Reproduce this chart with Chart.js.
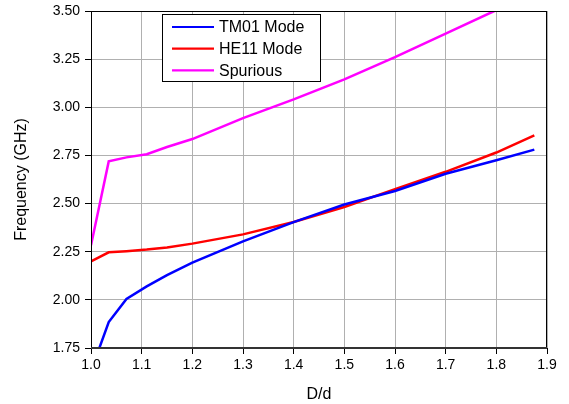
<!DOCTYPE html>
<html>
<head>
<meta charset="utf-8">
<title>Mode frequencies vs D/d</title>
<script src="https://cdn.jsdelivr.net/npm/chart.js@4"></script>
<style>
  html, body { margin: 0; padding: 0; background: #fff; }
  #wrap { width: 569px; height: 404px; }
</style>
</head>
<body>
<div id="wrap"><canvas id="modeChart" width="569" height="404"></canvas></div>
<script>
// ===== DATA =====
const ratio    = [1.0, 1.035, 1.07, 1.11, 1.15, 1.2, 1.3, 1.4, 1.5, 1.6, 1.7, 1.8, 1.875];
const tm01     = [1.63, 1.885, 2.005, 2.07, 2.128, 2.193, 2.304, 2.404, 2.495, 2.565, 2.655, 2.725, 2.78];
const he11     = [2.20, 2.247, 2.253, 2.261, 2.272, 2.292, 2.34, 2.404, 2.482, 2.575, 2.665, 2.765, 2.854];
const spurious = [2.283, 2.719, 2.74, 2.756, 2.794, 2.835, 2.944, 3.041, 3.145, 3.26, 3.383, 3.505, 3.62];

const seriesNames = ['TM01 Mode', 'HE11 Mode', 'Spurious'];
const seriesColors = ['#0000ff', '#ff0000', '#ff00ff'];

const FONT = 'Arial, "Liberation Sans", sans-serif';

function toPoints(ys) {
  return ys.map((y, i) => ({ x: ratio[i], y }));
}

// ===== PLUGINS =====
// black frame round the plot, darker bottom axis line
const framePlugin = {
  id: 'frame',
  afterDatasetsDraw(chart) {
    const { ctx, chartArea: a } = chart;
    ctx.save();
    ctx.strokeStyle = '#000';
    ctx.lineWidth = 1;
    ctx.strokeRect(a.left + 0.5, a.top + 0.5, a.right - a.left - 1, a.bottom - a.top);
    ctx.strokeStyle = '#333';
    ctx.lineWidth = 2;
    ctx.beginPath();
    ctx.moveTo(a.left, a.bottom);
    ctx.lineTo(a.right, a.bottom);
    ctx.stroke();
    ctx.restore();
  }
};

// boxed legend in the upper left of the plot
const boxLegend = {
  id: 'boxLegend',
  afterDraw(chart) {
    const { ctx } = chart;
    const x0 = 162, y0 = 14, w = 158, h = 67;
    ctx.save();
    ctx.fillStyle = '#fff';
    ctx.fillRect(x0, y0, w, h);
    ctx.strokeStyle = '#000';
    ctx.lineWidth = 1;
    ctx.strokeRect(x0 + 0.5, y0 + 0.5, w, h);
    ctx.font = '16px ' + FONT;
    ctx.textBaseline = 'middle';
    chart.data.datasets.forEach((ds, i) => {
      const yy = y0 + 13 + i * 21.7;
      ctx.strokeStyle = ds.borderColor;
      ctx.lineWidth = 2.2;
      ctx.beginPath();
      ctx.moveTo(x0 + 10, yy);
      ctx.lineTo(x0 + 52, yy);
      ctx.stroke();
      ctx.fillStyle = '#000';
      ctx.fillText(ds.label, x0 + 57, yy + 1);
    });
    ctx.restore();
  }
};

// ===== CHART =====
new Chart(document.getElementById('modeChart'), {
  type: 'line',
  data: {
    datasets: [tm01, he11, spurious].map((ys, i) => ({
      label: seriesNames[i],
      data: toPoints(ys),
      borderColor: seriesColors[i],
      backgroundColor: seriesColors[i],
      borderWidth: 2.5,
      pointRadius: 0,
      tension: 0,
      fill: false
    }))
  },
  options: {
    responsive: false,
    animation: false,
    layout: { padding: { top: 11, right: 22, left: 12, bottom: 0 } },
    plugins: { legend: { display: false }, tooltip: { enabled: false } },
    scales: {
      x: {
        type: 'linear',
        min: 1.0, max: 1.9,
        afterFit: axis => { axis.height = 56; axis.paddingLeft = 0; axis.paddingRight = 0; },
        grid: { color: '#b0b0b0', lineWidth: 1, tickColor: '#000', tickLength: 6 },
        border: { display: false },
        ticks: {
          stepSize: 0.1,
          color: '#000',
          padding: 3,
          font: { family: FONT, size: 14 },
          callback: v => v.toFixed(1)
        },
        title: {
          display: true, text: 'D/d', color: '#000',
          font: { family: FONT, size: 16 },
          padding: { top: 3, bottom: 0 }
        }
      },
      y: {
        min: 1.75, max: 3.5,
        afterFit: axis => { axis.width = 79; axis.paddingTop = 0; axis.paddingBottom = 0; },
        grid: { color: '#b0b0b0', lineWidth: 1, tickColor: '#000', tickLength: 6 },
        border: { display: false },
        ticks: {
          stepSize: 0.25,
          color: '#000',
          padding: 5,
          font: { family: FONT, size: 14 },
          callback: v => v.toFixed(2)
        },
        title: {
          display: true, text: 'Frequency (GHz)', color: '#000',
          font: { family: FONT, size: 16 },
          padding: { top: 0, bottom: 4 }
        }
      }
    }
  },
  plugins: [framePlugin, boxLegend]
});
</script>
</body>
</html>
